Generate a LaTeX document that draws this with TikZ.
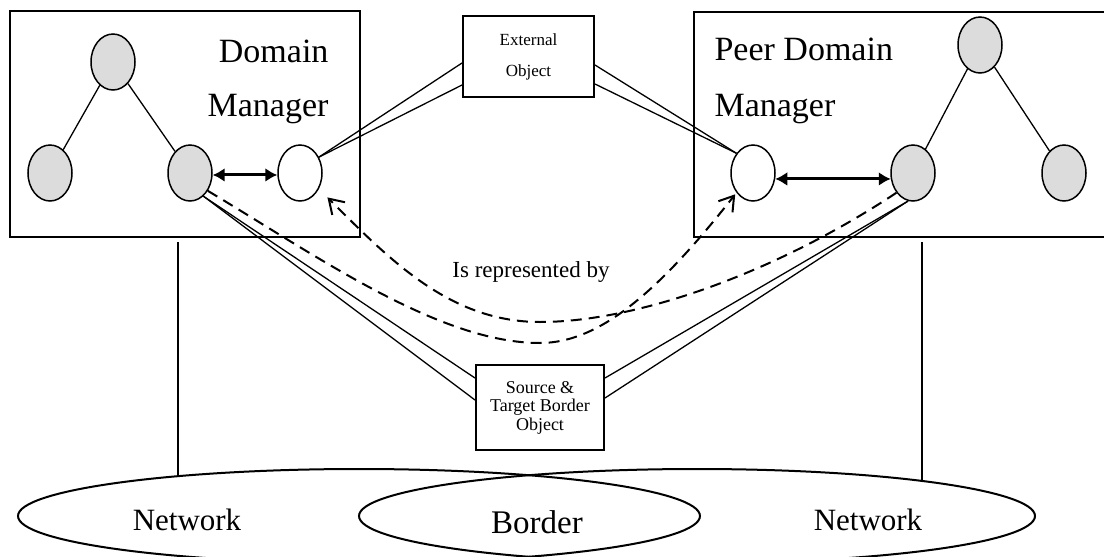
\documentclass[tikz,border=0pt]{standalone}
\usepackage{fontspec}
\setmainfont{Liberation Serif}
\usepackage{xcolor}
\usetikzlibrary{shapes.geometric}
\usetikzlibrary{arrows.meta,calc}
\definecolor{lightgrey}{RGB}{220,220,220}
\tikzset{
	obj/.style={draw, ellipse, line width=1.5pt, fill=white, minimum width=44pt, minimum height=56pt, inner sep=0pt},
	mobj/.style={obj, fill=lightgrey},
	dombox/.style={draw, line width=2pt, inner sep=0pt},
	objbox/.style={draw, line width=2pt, inner sep=0pt, align=center, fill=white},
	link/.style={line width=1.3pt},
	rep/.style={line width=2pt, dash pattern=on 11pt off 7pt, -{Straight Barb[length=14pt,width=18pt,line width=2pt]}},
	peer/.style={line width=3pt, {Latex[length=12pt,width=14pt]}-{Latex[length=12pt,width=14pt]}},
	net/.style={draw, ellipse, line width=2pt, inner sep=0pt}
}

\begin{document}
\begin{tikzpicture}[x=1pt,y=-1pt]
		\useasboundingbox (0,0) rectangle (1104,557);
		\clip (0,0) rectangle (1104,557);
		\node[dombox, minimum width=350pt, minimum height=226pt] (ldom) at (185,124) {};
		\node[dombox, minimum width=420pt, minimum height=225pt] (rdom) at (904,124.5) {};
		\node[anchor=base east, font=\fontsize{34}{40}\selectfont] (ldomtxt) at (332,62) {Domain};
		\node[anchor=base east, font=\fontsize{34}{40}\selectfont] (lmgrtxt) at (332,116) {Manager};
		\node[anchor=base west, font=\fontsize{34}{40}\selectfont] (rdomtxt) at (711,60) {Peer Domain};
		\node[anchor=base west, font=\fontsize{34}{40}\selectfont] (rmgrtxt) at (711,116) {Manager};
		\node[mobj] (lroot) at (113,62) {};
		\node[mobj] (lleft) at (50,173) {};
		\node[mobj] (lright) at (190,173) {};
		\node[obj] (lext) at (300,173) {};
		\node[mobj] (rroot) at (980,45) {};
		\node[mobj] (rleft) at (913,173) {};
		\node[mobj] (rright) at (1064,173) {};
		\node[obj] (rext) at (753,173) {};
		\draw[link] (lroot) -- (lleft);
		\draw[link] (lroot) -- (lright);
		\draw[link] (rroot) -- (rleft);
		\draw[link] (rroot) -- (rright);
		\draw[peer] (lright.-5) -- (lext.185);
		\draw[peer] (rext.-15) -- (rleft.-165);
		\node[objbox, minimum width=131pt, minimum height=81pt, font=\fontsize{17}{31}\selectfont] (extobj) at (528.5,56.5) {External\\Object};
		\node[objbox, minimum width=128pt, minimum height=85pt, font=\fontsize{18}{18.5}\selectfont] (srcobj) at (540,407.5) {Source \&\\Target Border\\Object};
		\draw[link] (lext.40) -- ([yshift=-6.5pt]extobj.west);
		\draw[link] (lext.40) -- ([yshift=-28.5pt]extobj.west);
		\draw[link] (rext.130) -- ([yshift=-8.5pt]extobj.east);
		\draw[link] (rext.130) -- ([yshift=-27.5pt]extobj.east);
		\draw[link] (lright.-60) -- ([yshift=29.5pt]srcobj.west);
		\draw[link] (lright.-60) -- ([yshift=7.5pt]srcobj.west);
		\draw[link] (rleft.-100) -- ([yshift=29.5pt]srcobj.east);
		\draw[link] (rleft.-100) -- ([yshift=9.5pt]srcobj.east);
		\draw[rep, shorten >=2pt] (lright.-45) .. controls (320,258) and (440,343) .. (540,343) .. controls (600,343) and (660,290) .. (rext.-130);
		\draw[rep, shorten >=12pt] (rleft.-130) .. controls (780,270) and (640,322) .. (540,322) .. controls (450,322) and (390,260) .. (lext.-40);
		\node[font=\fontsize{23}{26}\selectfont] (reptxt) at (531,272) {Is represented by};
		\node[net, minimum width=682pt, minimum height=94pt] (lnet) at (359,516) {};
		\node[net, minimum width=676pt, minimum height=94pt] (rnet) at (697,516) {};
		\node[font=\fontsize{31}{36}\selectfont] (lnettxt) at (187,520) {Network};
		\node[font=\fontsize{33}{38}\selectfont] (bordtxt) at (537,522) {Border};
		\node[font=\fontsize{31}{36}\selectfont] (rnettxt) at (868,520) {Network};
		\coordinate (lfoot) at (178,476);
		\coordinate (rfoot) at (922,481);
		\draw[link] ([xshift=-7pt,yshift=-4pt]ldom.south) -- (lfoot);
		\draw[link] ([xshift=18pt,yshift=-4pt]rdom.south) -- (rfoot);
	\end{tikzpicture}
\end{document}
